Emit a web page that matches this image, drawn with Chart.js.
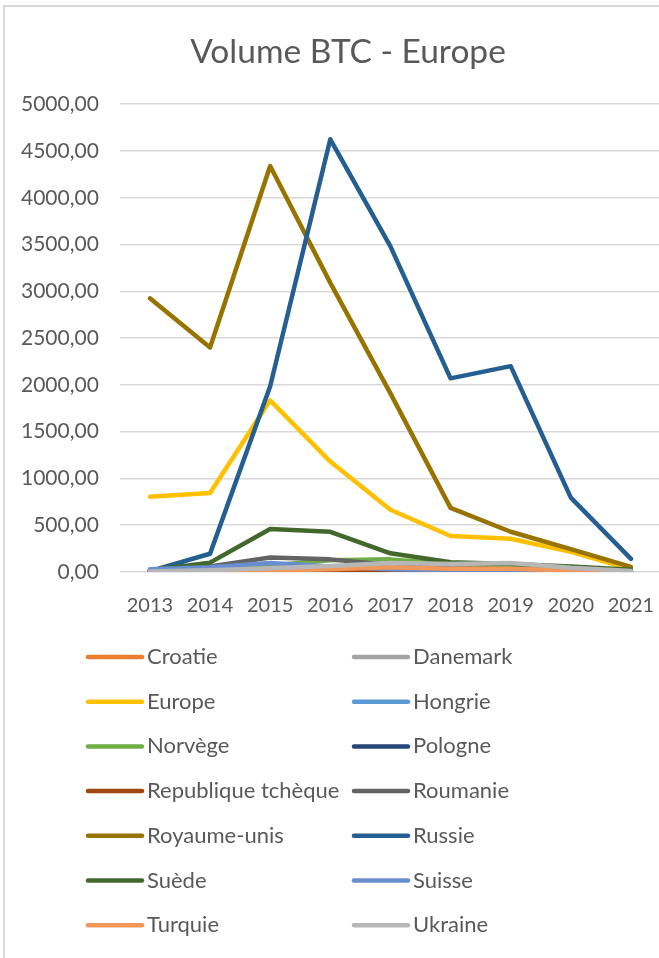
<!DOCTYPE html>
<html>
<head>
<meta charset="utf-8">
<script src="https://cdn.jsdelivr.net/npm/chart.js@4.4.1/dist/chart.umd.min.js"></script>
<style>
  html, body { margin: 0; padding: 0; background: #fff; overflow: hidden; }
  #wrap { width: 696px; height: 958px; position: relative; }
</style>
</head>
<body>
<div id="wrap"><canvas id="btcChart"></canvas></div>
<script>
// Data
const years = ['2013', '2014', '2015', '2016', '2017', '2018', '2019', '2020', '2021'];

const croatie        = [5, 5, 10, 15, 20, 10, 10, 5, 2];
const danemark       = [10, 15, 20, 25, 30, 20, 20, 10, 5];
const europe         = [805, 845, 1835, 1180, 665, 385, 355, 215, 30];
const hongrie        = [5, 10, 15, 20, 15, 10, 10, 5, 2];
const norvege        = [10, 30, 70, 125, 135, 85, 70, 40, 15];
const pologne        = [10, 15, 30, 25, 15, 10, 10, 5, 2];
const republiqueTch  = [5, 15, 25, 20, 10, 5, 5, 3, 1];
const roumanie       = [20, 60, 155, 135, 75, 40, 30, 20, 10];
const royaumeUnis    = [2925, 2400, 4340, 3090, 1910, 685, 430, 245, 55];
const russie         = [10, 195, 1985, 4625, 3480, 2070, 2200, 795, 140];
const suede          = [20, 100, 460, 430, 200, 105, 85, 60, 25];
const suisse         = [30, 50, 95, 60, 30, 20, 15, 10, 5];
const turquie        = [0, 5, 15, 30, 50, 35, 35, 15, 5];
const ukraine        = [5, 20, 40, 65, 95, 85, 95, 45, 10];

const yTicks = [0, 500, 1000, 1500, 2000, 2500, 3000, 3500, 4000, 4500, 5000];

const series = [
  ['Croatie', croatie, '#ED7D31'],
  ['Danemark', danemark, '#A5A5A5'],
  ['Europe', europe, '#FFC000'],
  ['Hongrie', hongrie, '#5B9BD5'],
  ['Norvège', norvege, '#70AD47'],
  ['Pologne', pologne, '#264478'],
  ['Republique tchèque', republiqueTch, '#9E480E'],
  ['Roumanie', roumanie, '#636363'],
  ['Royaume-unis', royaumeUnis, '#997300'],
  ['Russie', russie, '#255E91'],
  ['Suède', suede, '#43682B'],
  ['Suisse', suisse, '#698ED0'],
  ['Turquie', turquie, '#F1975A'],
  ['Ukraine', ukraine, '#B7B7B7']
];

const textColor = '#595959';
const fontFamily = 'Lato, "Open Sans", sans-serif';

// frame around the chart, like the Excel chart border
const framePlugin = {
  id: 'frame',
  beforeDraw(chart) {
    const ctx = chart.ctx;
    ctx.save();
    ctx.fillStyle = '#fff';
    ctx.fillRect(0, 0, chart.width, chart.height);
    ctx.strokeStyle = '#D9D9D9';
    ctx.lineWidth = 2;
    ctx.strokeRect(4, 6, chart.width + 20, chart.height + 20);
    ctx.restore();
  }
};

// two-column legend below the plot
const legendPlugin = {
  id: 'gridLegend',
  afterDraw(chart) {
    const ctx = chart.ctx;
    ctx.save();
    ctx.font = '22px ' + fontFamily;
    ctx.textBaseline = 'middle';
    ctx.lineCap = 'round';
    ctx.lineWidth = 4.5;
    chart.data.datasets.forEach(function(ds, i) {
      const col = i % 2;
      const row = Math.floor(i / 2);
      const x = col === 0 ? 88 : 354;
      const y = 657 + row * 44.7;
      ctx.strokeStyle = ds.borderColor;
      ctx.beginPath();
      ctx.moveTo(x, y);
      ctx.lineTo(x + 54, y);
      ctx.stroke();
      ctx.fillStyle = textColor;
      ctx.fillText(ds.label, x + 59, y);
    });
    ctx.restore();
  }
};

const ctx = document.getElementById('btcChart').getContext('2d');
const chart = new Chart(ctx, {
  type: 'line',
  data: {
    labels: years,
    datasets: series.map(function(s, i) {
      return {
        label: s[0],
        data: s[1],
        borderColor: s[2],
        backgroundColor: s[2],
        borderWidth: 4.5,
        pointRadius: 0,
        borderCapStyle: 'round',
        borderJoinStyle: 'round',
        tension: 0,
        fill: false,
        order: series.length - i // later series drawn on top, as in Excel
      };
    })
  },
  options: {
    responsive: true,
    maintainAspectRatio: false,
    animation: false,
    layout: {
      padding: { left: 0, right: 0, top: 0, bottom: 326 }
    },
    plugins: {
      legend: { display: false },
      tooltip: { enabled: false },
      title: {
        display: true,
        text: 'Volume BTC - Europe',
        color: textColor,
        font: { family: fontFamily, size: 33.5, weight: 'normal' },
        padding: { top: 32, bottom: 32 }
      }
    },
    scales: {
      x: {
        offset: true,
        grid: { display: false },
        border: { display: false },
        ticks: {
          color: textColor,
          font: { family: fontFamily, size: 20 },
          padding: 14,
          maxRotation: 0
        }
      },
      y: {
        min: 0,
        max: 5000,
        afterBuildTicks: function(axis) {
          axis.ticks = yTicks.map(function(v) { return { value: v }; });
        },
        grid: { color: '#D9D9D9', lineWidth: 1.5, drawTicks: false },
        border: { display: false },
        ticks: {
          color: textColor,
          font: { family: fontFamily, size: 21 },
          padding: 21,
          callback: function(v) { return v.toFixed(2).replace('.', ','); }
        }
      },
      // empty spacer on the right: the plot stops short of the frame edge
      spacer: {
        type: 'linear',
        position: 'right',
        grid: { display: false },
        border: { display: false },
        ticks: { display: false },
        afterFit: function(scale) { scale.width = 35; }
      }
    }
  },
  plugins: [framePlugin, legendPlugin]
});
</script>
</body>
</html>
